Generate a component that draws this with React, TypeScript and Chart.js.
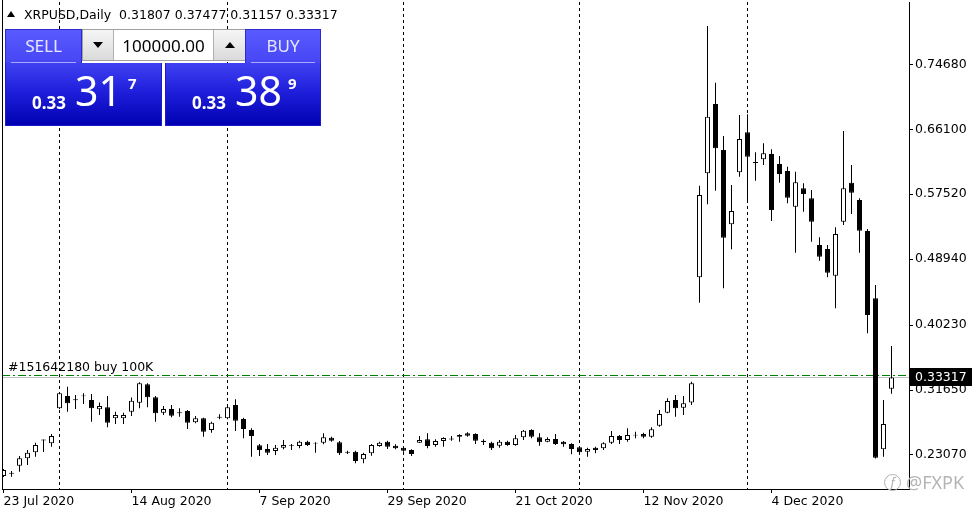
import React, { useEffect, useRef } from "react";
import { Chart, registerables } from "chart.js";

Chart.register(...registerables);

// ---- data (daily XRPUSD candles, one per trading day starting 23 Jul 2020) ----
const opens = [
  0.2029, 0.2072, 0.2166, 0.2263, 0.2343, 0.2510, 0.2461, 0.2924, 0.3086, 0.3042,
  0.3094, 0.3033, 0.2910, 0.2937, 0.2792, 0.2792, 0.2879, 0.2997, 0.3241, 0.3069,
  0.2866, 0.2915, 0.2871, 0.2888, 0.2739, 0.2792, 0.2637, 0.2812, 0.2792, 0.2967,
  0.2782, 0.2637, 0.2437, 0.2386, 0.2360, 0.2403, 0.2440, 0.2425, 0.2482, 0.2470,
  0.2469, 0.2535, 0.2474, 0.2351, 0.2351, 0.2250, 0.2329, 0.2425, 0.2482, 0.2430,
  0.2403, 0.2373, 0.2469, 0.2514, 0.2439, 0.2492, 0.2524, 0.2571, 0.2593, 0.2584,
  0.2495, 0.2469, 0.2430, 0.2482, 0.2439, 0.2540, 0.2637, 0.2540, 0.2483, 0.2518,
  0.2482, 0.2452, 0.2408, 0.2351, 0.2403, 0.2395, 0.2469, 0.2558, 0.2505, 0.2575,
  0.2584, 0.2549, 0.2694, 0.2866, 0.3033, 0.2932, 0.2999, 0.4654, 0.6028, 0.6944,
  0.6336, 0.5354, 0.6041, 0.6570, 0.6176, 0.6213, 0.6283, 0.6151, 0.6058, 0.5587,
  0.5830, 0.5698, 0.5081, 0.5028, 0.4675, 0.5389, 0.5904, 0.5675, 0.5266, 0.4377,
  0.2382, 0.31807,
];
const highs = [
  0.2122, 0.2095, 0.2293, 0.2373, 0.2469, 0.2512, 0.2585, 0.3125, 0.3209, 0.3099,
  0.3122, 0.3112, 0.2999, 0.3086, 0.2879, 0.2866, 0.3068, 0.3267, 0.3254, 0.3086,
  0.2954, 0.2967, 0.2924, 0.2901, 0.2822, 0.2800, 0.2747, 0.2845, 0.2945, 0.3043,
  0.2800, 0.2659, 0.2452, 0.2452, 0.2439, 0.2505, 0.2452, 0.2495, 0.2495, 0.2475,
  0.2593, 0.2549, 0.2492, 0.2364, 0.2364, 0.2337, 0.2452, 0.2482, 0.2495, 0.2448,
  0.2417, 0.2382, 0.2558, 0.2593, 0.2514, 0.2540, 0.2558, 0.2580, 0.2607, 0.2593,
  0.2514, 0.2482, 0.2505, 0.2495, 0.2571, 0.2637, 0.2646, 0.2593, 0.2540, 0.2584,
  0.2492, 0.2461, 0.2417, 0.2403, 0.2417, 0.2474, 0.2624, 0.2571, 0.2659, 0.2615,
  0.2602, 0.2673, 0.2901, 0.3056, 0.3099, 0.3086, 0.3275, 0.5864, 0.7974, 0.7225,
  0.6521, 0.5874, 0.6798, 0.6807, 0.6306, 0.6425, 0.6345, 0.6257, 0.6115, 0.6049,
  0.5896, 0.5808, 0.5183, 0.5081, 0.5315, 0.6587, 0.6138, 0.5698, 0.5292, 0.4553,
  0.3033, 0.37477,
];
const lows = [
  0.2016, 0.2020, 0.2086, 0.2174, 0.2284, 0.2347, 0.2416, 0.2915, 0.2879, 0.2914,
  0.2981, 0.2747, 0.2835, 0.2673, 0.2716, 0.2716, 0.2822, 0.2924, 0.2937, 0.2747,
  0.2835, 0.2805, 0.2813, 0.2650, 0.2725, 0.2549, 0.2601, 0.2778, 0.2778, 0.2624,
  0.2527, 0.2284, 0.2294, 0.2307, 0.2307, 0.2382, 0.2373, 0.2395, 0.2425, 0.2337,
  0.2448, 0.2482, 0.2307, 0.2320, 0.2197, 0.2197, 0.2298, 0.2416, 0.2386, 0.2382,
  0.2351, 0.2294, 0.2465, 0.2395, 0.2417, 0.2417, 0.2495, 0.2482, 0.2549, 0.2452,
  0.2439, 0.2373, 0.2403, 0.2430, 0.2430, 0.2505, 0.2527, 0.2430, 0.2474, 0.2439,
  0.2417, 0.2316, 0.2307, 0.2284, 0.2329, 0.2373, 0.2452, 0.2452, 0.2482, 0.2527,
  0.2527, 0.2535, 0.2681, 0.2858, 0.2813, 0.2835, 0.2967, 0.4319, 0.5619, 0.5798,
  0.4509, 0.5024, 0.5983, 0.5640, 0.5930, 0.6138, 0.5398, 0.5904, 0.5632, 0.4979,
  0.5521, 0.5125, 0.4874, 0.4654, 0.4245, 0.5345, 0.5491, 0.4979, 0.3914, 0.2260,
  0.2284, 0.31157,
];
const closes = [
  0.2109, 0.2060, 0.2263, 0.2337, 0.2439, 0.2497, 0.2558, 0.3122, 0.2990, 0.3030,
  0.3082, 0.2923, 0.2954, 0.2733, 0.2835, 0.2835, 0.3024, 0.3254, 0.3069, 0.2858,
  0.2915, 0.2826, 0.2858, 0.2733, 0.2792, 0.2615, 0.2733, 0.2800, 0.2937, 0.2760,
  0.2650, 0.2558, 0.2373, 0.2337, 0.2403, 0.2439, 0.2428, 0.2482, 0.2439, 0.2458,
  0.2540, 0.2495, 0.2329, 0.2335, 0.2228, 0.2320, 0.2439, 0.2469, 0.2416, 0.2395,
  0.2364, 0.2320, 0.2505, 0.2425, 0.2492, 0.2531, 0.2512, 0.2549, 0.2562, 0.2495,
  0.2480, 0.2395, 0.2482, 0.2439, 0.2527, 0.2628, 0.2549, 0.2474, 0.2518, 0.2452,
  0.2448, 0.2386, 0.2342, 0.2386, 0.2373, 0.2461, 0.2558, 0.2505, 0.2571, 0.2564,
  0.2549, 0.2646, 0.2848, 0.3020, 0.2924, 0.2990, 0.3254, 0.5741, 0.6776, 0.6358,
  0.5177, 0.5530, 0.6481, 0.6247, 0.6164, 0.6292, 0.5543, 0.6019, 0.5706, 0.5909,
  0.5755, 0.5389, 0.4926, 0.4715, 0.5226, 0.5830, 0.5772, 0.5270, 0.4156, 0.2271,
  0.2716, 0.33317,
];

// x-axis date labels (bar index -> label)
const labelIdx = [0, 16, 32, 48, 64, 80, 96];
const tickLabels = [
  "23 Jul 2020",
  "14 Aug 2020",
  "7 Sep 2020",
  "29 Sep 2020",
  "21 Oct 2020",
  "12 Nov 2020",
  "4 Dec 2020",
];
// period separators (first trading day of each month)
const monthStartIdx = [7, 28, 50, 72, 93];
// price scale ticks
const priceTicks = [0.7468, 0.661, 0.5752, 0.4894, 0.4023, 0.3165, 0.2307];

const symbolText = "XRPUSD,Daily";
const orderPrice = 0.3354;
const orderText = "#151642180 buy 100K";
const bidPrice = 0.33317;
const askPrice = 0.33389;
const volumeText = "100000.00";
const watermark = "@FXPK";

const FONT = "'DejaVu Sans', Verdana, sans-serif";
const PFONT = "'Noto Sans', Arial, sans-serif";

const overlayPlugin = {
  id: "mtOverlay",
  beforeDatasetsDraw(chart: any) {
    const { ctx, chartArea: a, scales } = chart;
    const y = scales.y;
    const yb = Math.floor(y.getPixelForValue(bidPrice)) + 0.5;
    const yo = Math.floor(y.getPixelForValue(orderPrice)) + 0.5;
    ctx.save();
    ctx.lineWidth = 1;
    ctx.strokeStyle = "#c0c0c0";
    ctx.beginPath();
    ctx.moveTo(a.left, yb);
    ctx.lineTo(a.right, yb);
    ctx.stroke();
    ctx.strokeStyle = "#008000";
    ctx.setLineDash([8, 3, 2, 3]);
    ctx.beginPath();
    ctx.moveTo(a.left, yo);
    ctx.lineTo(a.right, yo);
    ctx.stroke();
    ctx.setLineDash([]);
    ctx.fillStyle = "#000";
    ctx.font = `12.5px ${FONT}`;
    ctx.textBaseline = "alphabetic";
    ctx.textAlign = "left";
    ctx.fillText(orderText, a.left + 6, yo - 5);
    ctx.restore();
  },
  afterDraw(chart: any) {
    const { ctx, chartArea: a, scales } = chart;
    const y = scales.y;
    ctx.save();
    // left frame
    ctx.strokeStyle = "#000";
    ctx.lineWidth = 1;
    ctx.beginPath();
    ctx.moveTo(a.left + 0.5, 0);
    ctx.lineTo(a.left + 0.5, a.bottom);
    ctx.stroke();
    // bid price label
    const yb = y.getPixelForValue(bidPrice);
    ctx.fillStyle = "#000";
    ctx.fillRect(a.right, Math.round(yb - 9), 63, 18);
    ctx.fillStyle = "#fff";
    ctx.font = `12.5px ${FONT}`;
    ctx.textBaseline = "middle";
    ctx.textAlign = "left";
    ctx.fillText(bidPrice.toFixed(5), a.right + 6, yb);
    ctx.restore();
  },
};

function PriceBox({ left, width, price }: { left: number; width: number; price: number }) {
  const s = price.toFixed(5);
  const a = s.slice(0, 4);
  const b = s.slice(4, 6);
  const c = s.slice(6);
  return (
    <div
      style={{
        position: "absolute",
        left,
        top: 63,
        width,
        height: 63,
        boxSizing: "border-box",
        border: "1px solid #1a1ac8",
        borderTop: "none",
        background: "linear-gradient(to bottom, #4040f2 0%, #2020dc 45%, #0000b2 100%)",
        color: "#fff",
      }}
    >
      <span style={{ position: "absolute", left: 26, top: 31, font: `bold 17px ${PFONT}`, lineHeight: "17px" }}>{a}</span>
      <span style={{ position: "absolute", left: 69, top: 7, font: `41px ${PFONT}`, lineHeight: "41px" }}>{b}</span>
      <span style={{ position: "absolute", left: 122, top: 13, font: `bold 15px ${PFONT}`, lineHeight: "15px" }}>{c}</span>
    </div>
  );
}

function HeadBox({ left, width, text }: { left: number; width: number; text: string }) {
  return (
    <div
      style={{
        position: "absolute",
        left,
        top: 29,
        width,
        height: 34,
        boxSizing: "border-box",
        border: "1px solid #2a2ad0",
        borderBottom: "none",
        background: "linear-gradient(to bottom, #5a5aff, #4646f4)",
        color: "#e6e6ff",
        textAlign: "center",
        font: `17px ${PFONT}`,
        lineHeight: "17px",
      }}
    >
      <div style={{ position: "absolute", left: 0, right: 0, top: 7 }}>{text}</div>
      <div style={{ position: "absolute", left: 5, right: 5, top: 32, height: 1, background: "#a8a8ff" }} />
    </div>
  );
}

function Arrow({ up }: { up: boolean }) {
  return (
    <div
      style={{
        position: "absolute",
        left: "50%",
        top: "50%",
        marginLeft: -5,
        marginTop: -3,
        width: 0,
        height: 0,
        borderLeft: "5px solid transparent",
        borderRight: "5px solid transparent",
        ...(up ? { borderBottom: "6px solid #000" } : { borderTop: "6px solid #000" }),
      }}
    />
  );
}

export default function App() {
  const ref = useRef<HTMLCanvasElement | null>(null);

  useEffect(() => {
    document.body.style.margin = "0";
    const idx = opens.map((_, i) => i);
    const chart = new Chart(ref.current as HTMLCanvasElement, {
      type: "bar",
      data: {
        datasets: [
          {
            label: "wicks",
            data: idx.map((i) => ({ x: i, y: [lows[i], highs[i]] })) as any,
            backgroundColor: "#000",
            borderWidth: 0,
            barThickness: 1,
            grouped: false,
            inflateAmount: 0,
            order: 2,
            xAxisID: "x",
            yAxisID: "y",
          } as any,
          {
            label: "bodies",
            data: idx.map((i) => ({ x: i, y: [opens[i], closes[i]] })) as any,
            backgroundColor: idx.map((i) => (closes[i] >= opens[i] ? "#ffffff" : "#000000")),
            borderColor: "#000",
            borderWidth: 1,
            borderSkipped: false,
            barThickness: 5,
            grouped: false,
            inflateAmount: 0,
            order: 1,
            xAxisID: "x",
            yAxisID: "y",
          } as any,
        ],
      },
      options: {
        responsive: false,
        maintainAspectRatio: false,
        animation: false,
        events: [],
        layout: { padding: { left: 2, top: 2, right: 0, bottom: 0 } },
        plugins: { legend: { display: false }, tooltip: { enabled: false } },
        scales: {
          x: {
            type: "linear",
            position: "bottom",
            offset: false,
            bounds: "data",
            min: -0.1875,
            max: 113.1875,
            afterBuildTicks: (s: any) => {
              s.ticks = labelIdx.map((v) => ({ value: v }));
            },
            afterFit: (s: any) => {
              s.height = 27;
              s.paddingLeft = 0;
              s.paddingRight = 0;
            },
            ticks: {
              autoSkip: false,
              maxRotation: 0,
              minRotation: 0,
              align: "start",
              color: "#000",
              padding: 1,
              font: { family: FONT, size: 12.5 },
              callback: (_v: any, i: number) => tickLabels[i],
            },
            grid: { offset: false, drawOnChartArea: false, drawTicks: true, tickLength: 4, tickColor: "#000", color: "#000" },
            border: { display: true, color: "#000" },
          },
          x2: {
            type: "linear",
            position: "top",
            offset: false,
            bounds: "data",
            min: -0.1875,
            max: 113.1875,
            afterBuildTicks: (s: any) => {
              s.ticks = monthStartIdx.map((v) => ({ value: v }));
            },
            afterFit: (s: any) => {
              s.height = 0;
              s.paddingLeft = 0;
              s.paddingRight = 0;
            },
            ticks: { display: false },
            grid: { offset: false, drawOnChartArea: true, drawTicks: false, color: "#000", lineWidth: 1 },
            border: { display: false, dash: [3, 3] },
          },
          y: {
            type: "linear",
            position: "right",
            min: 0.18577,
            max: 0.8291,
            afterBuildTicks: (s: any) => {
              s.ticks = priceTicks.map((v) => ({ value: v }));
            },
            afterFit: (s: any) => {
              s.width = 71;
              s.paddingTop = 0;
              s.paddingBottom = 0;
            },
            ticks: {
              color: "#000",
              padding: 2,
              font: { family: FONT, size: 12.5 },
              callback: (v: any) => Number(v).toFixed(5),
            },
            grid: { drawOnChartArea: false, drawTicks: true, tickLength: 4, tickColor: "#000" },
            border: { display: true, color: "#000" },
          },
        },
      } as any,
      plugins: [overlayPlugin],
    });
    return () => chart.destroy();
  }, []);

  const last = opens.length - 1;
  const ohlc = [opens[last], highs[last], lows[last], closes[last]].map((v) => v.toFixed(5)).join(" ");

  return (
    <div style={{ position: "absolute", left: 0, top: 0, width: 980, height: 516, background: "#fff", overflow: "hidden" }}>
      <canvas ref={ref} width={980} height={516} style={{ position: "absolute", left: 0, top: 0, width: 980, height: 516 }} />

      {/* header */}
      <div
        style={{
          position: "absolute",
          left: 7,
          top: 11,
          width: 0,
          height: 0,
          borderLeft: "4.5px solid transparent",
          borderRight: "4.5px solid transparent",
          borderBottom: "6px solid #000",
        }}
      />
      <div style={{ position: "absolute", left: 24, top: 8, font: `12.5px ${FONT}`, lineHeight: "13px", whiteSpace: "pre", color: "#000" }}>
        {symbolText + "  " + ohlc}
      </div>

      {/* one-click trading panel */}
      <HeadBox left={5} width={77} text="SELL" />
      <HeadBox left={245} width={76} text="BUY" />
      <div
        style={{
          position: "absolute",
          left: 82,
          top: 29,
          width: 163,
          height: 32,
          boxSizing: "border-box",
          border: "1px solid #a0a0a0",
          background: "#fff",
        }}
      >
        <div style={{ position: "absolute", left: 0, top: 0, width: 30, height: 30, background: "linear-gradient(#f6f6f6, #dadada)", borderRight: "1px solid #b0b0b0" }}>
          <Arrow up={false} />
        </div>
        <div style={{ position: "absolute", left: 31, top: 0, width: 99, height: 30, textAlign: "center", font: `17px ${PFONT}`, lineHeight: "17px", color: "#000" }}>
          <div style={{ position: "absolute", left: 0, right: 0, top: 7 }}>{volumeText}</div>
        </div>
        <div style={{ position: "absolute", left: 130, top: 0, width: 31, height: 30, background: "linear-gradient(#f6f6f6, #dadada)", borderLeft: "1px solid #b0b0b0" }}>
          <Arrow up={true} />
        </div>
      </div>
      <PriceBox left={5} width={157} price={bidPrice} />
      <PriceBox left={165} width={156} price={askPrice} />

      {/* watermark */}
      <div
        style={{
          position: "absolute",
          left: 884,
          top: 474,
          width: 15,
          height: 15,
          borderRadius: "50%",
          border: "1.5px solid #b0b0b0",
          color: "#b0b0b0",
          font: `italic 13px ${PFONT}`,
          lineHeight: "15px",
          textAlign: "center",
        }}
      >
        f
      </div>
      <div style={{ position: "absolute", left: 906, top: 473, font: `18px ${PFONT}`, lineHeight: "18px", color: "#b4b4b4", whiteSpace: "pre" }}>
        {watermark}
      </div>
    </div>
  );
}
